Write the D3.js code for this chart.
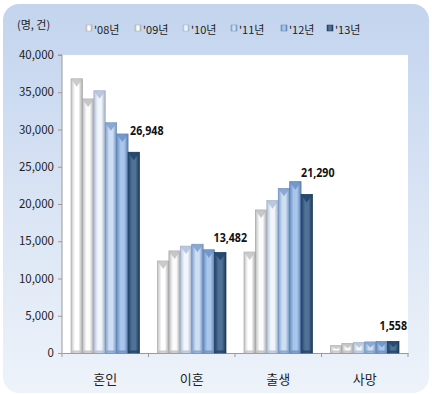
<!DOCTYPE html>
<html><head><meta charset="utf-8">
<script src="https://cdn.jsdelivr.net/npm/d3@7"></script>
<style>
html,body{margin:0;padding:0;background:#fff;}
svg{display:block;}
</style></head>
<body>
<script>
const categories = ["혼인", "이혼", "출생", "사망"];
const seriesNames = ["'08년", "'09년", "'10년", "'11년", "'12년", "'13년"];
const v08 = [36800, 12350, 13550, 980];
const v09 = [34100, 13700, 19200, 1280];
const v10 = [35200, 14350, 20450, 1420];
const v11 = [30900, 14600, 22100, 1490];
const v12 = [29400, 13850, 23000, 1530];
const v13 = [26948, 13482, 21290, 1558];
const yTicks = [0, 5000, 10000, 15000, 20000, 25000, 30000, 35000, 40000];
const unitLabel = "(명, 건)";

const series = [v08, v09, v10, v11, v12, v13];
const colors = [
  ["#c2c2c2", "#ffffff", "#a9a9a9"],
  ["#bdbdc0", "#fbfbfb", "#a3a3a6"],
  ["#b0c0d8", "#f2f6fb", "#9fb0c9"],
  ["#7f9fcb", "#cfdff3", "#6f90bd"],
  ["#6a8fc4", "#aac6ea", "#5a7fb4"],
  ["#22436a", "#4f7296", "#1b3858"]
];

const W = 432, H = 394;
const svg = d3.select("body").append("svg").attr("width", W).attr("height", H);
const defs = svg.append("defs");

const bg = defs.append("linearGradient").attr("id", "bg").attr("x1", 0).attr("y1", 0).attr("x2", 0).attr("y2", 1);
bg.append("stop").attr("offset", "0%").attr("stop-color", "#c3d4ee");
bg.append("stop").attr("offset", "100%").attr("stop-color", "#eef3fa");

colors.forEach((c, i) => {
  const g = defs.append("linearGradient").attr("id", "bar" + i).attr("x1", 0).attr("y1", 0).attr("x2", 1).attr("y2", 0);
  g.append("stop").attr("offset", "0%").attr("stop-color", c[0]);
  g.append("stop").attr("offset", "35%").attr("stop-color", c[1]);
  g.append("stop").attr("offset", "65%").attr("stop-color", c[1]);
  g.append("stop").attr("offset", "100%").attr("stop-color", c[2]);
});

// outer background
svg.append("rect").attr("x", 3).attr("y", 4).attr("width", 426).attr("height", 389)
  .attr("rx", 16).attr("fill", "url(#bg)");

const plot = {left: 62, right: 408, top: 55, bottom: 353};
svg.append("rect").attr("x", plot.left).attr("y", plot.top)
  .attr("width", plot.right - plot.left).attr("height", plot.bottom - plot.top).attr("fill", "#ffffff");

const y = d3.scaleLinear().domain([0, 40000]).range([plot.bottom, plot.top]);
const x0 = d3.scaleBand().domain(categories).range([plot.left, plot.right]).padding(0);
const bw = x0.bandwidth();
const x1 = d3.scaleBand().domain(d3.range(series.length)).range([9, bw - 9]).padding(0);

// Y axis
const yAxis = d3.axisLeft(y).tickValues(yTicks).tickSize(4).tickPadding(4)
  .tickFormat(d3.format(","));
const ga = svg.append("g").attr("transform", `translate(${plot.left},0)`).call(yAxis);
ga.select(".domain").attr("stroke", "#9a9a9a").attr("d", `M-4,${plot.top}H0V${plot.bottom}`);
ga.selectAll(".tick line").attr("stroke", "#9a9a9a");
ga.selectAll(".tick text").attr("fill", "#222").style("font-family", "'Noto Sans CJK KR','Noto Sans',sans-serif").style("font-size", "11.5px");

// X axis
const xAxis = d3.axisBottom(x0).tickSize(0).tickPadding(22);
const gx = svg.append("g").attr("transform", `translate(0,${plot.bottom})`).call(xAxis);
gx.select(".domain").attr("stroke", "#9a9a9a");
gx.selectAll(".tick text").attr("fill", "#222").style("font-family", "'Noto Sans CJK KR',sans-serif").style("font-size", "13px");
const bounds = categories.map(c => x0(c)).concat([plot.right]);
svg.append("g").selectAll("line").data(bounds).join("line")
  .attr("x1", d => d).attr("x2", d => d).attr("y1", plot.bottom).attr("y2", plot.bottom + 4)
  .attr("stroke", "#9a9a9a");

// bars
const gBars = svg.append("g");
series.forEach((vals, si) => {
  const g = gBars.append("g");
  g.selectAll("rect").data(vals).join("rect")
    .attr("x", (d, i) => x0(categories[i]) + x1(si))
    .attr("y", d => y(d))
    .attr("width", x1.bandwidth())
    .attr("height", d => y(0) - y(d))
    .attr("fill", `url(#bar${si})`)
    .attr("stroke", colors[si][2]).attr("stroke-width", 0.7);
  g.selectAll("path").data(vals).join("path")
    .attr("d", (d, i) => {
      const xs = x0(categories[i]) + x1(si);
      const w = x1.bandwidth();
      const t = y(d);
      const hh = Math.min(8, (y(0) - t) * 0.5);
      return `M${xs},${t}L${xs + w},${t}L${xs + w / 2},${t + hh}Z`;
    })
    .attr("fill", colors[si][0]).attr("opacity", 0.85);
  g.selectAll("line").data(vals).join("line")
    .attr("x1", (d, i) => x0(categories[i]) + x1(si) + 1)
    .attr("x2", (d, i) => x0(categories[i]) + x1(si) + x1.bandwidth() - 1)
    .attr("y1", y(0) - 1.5).attr("y2", y(0) - 1.5)
    .attr("stroke", colors[si][0]).attr("stroke-width", 2).attr("opacity", 0.8);
});

// data labels for last series
const lastIdx = series.length - 1;
const labelOffsets = [[13, -21], [10, -15], [11, -21], [0, -15]];
svg.append("g").selectAll("text").data(v13).join("text")
  .attr("transform", (d, i) => {
    const lx = x0(categories[i]) + x1(lastIdx) + x1.bandwidth() / 2 + labelOffsets[i][0];
    const ly = y(d) + labelOffsets[i][1] + 4;
    return `translate(${lx},${ly}) scale(0.82,1)`;
  })
  .attr("text-anchor", "middle")
  .style("font-family", "'Noto Sans','DejaVu Sans',sans-serif")
  .style("font-weight", "bold").style("font-size", "13px").attr("fill", "#111")
  .text(d => d3.format(",")(d));

// unit label
svg.append("text").attr("x", 17).attr("y", 29)
  .style("font-family", "'Noto Sans CJK KR',sans-serif").style("font-size", "11px").attr("fill", "#222")
  .text(unitLabel);

// legend
const legX = [86, 135, 183, 231, 281, 327];
const leg = svg.append("g");
seriesNames.forEach((n, i) => {
  const g = leg.append("g").attr("transform", `translate(${legX[i]},29)`);
  g.append("rect").attr("x", 0).attr("y", -4).attr("width", 6).attr("height", 6)
    .attr("fill", `url(#bar${i})`).attr("stroke", colors[i][2]).attr("stroke-width", 0.5);
  g.append("text").attr("x", 8).attr("y", 5)
    .style("font-family", "'Noto Sans CJK KR',sans-serif").style("font-size", "11px").attr("fill", "#222")
    .text(n);
});
</script>
</body></html>
